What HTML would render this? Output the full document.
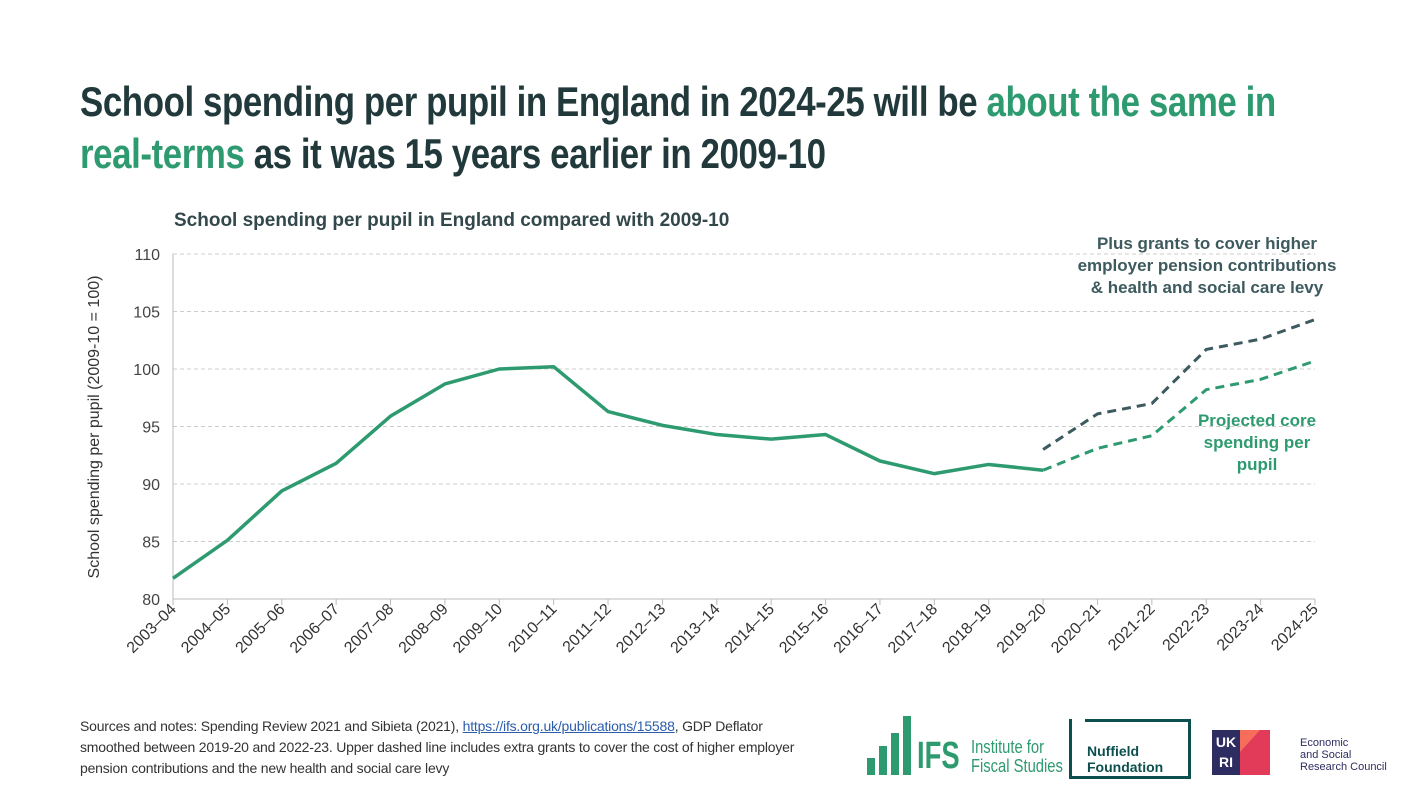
<!DOCTYPE html>
<html><head><meta charset="utf-8"><style>
body{margin:0;width:1423px;height:800px;background:#fff;font-family:"Liberation Sans",sans-serif;overflow:hidden;position:relative}
.t{position:absolute;left:80px;font-size:42px;line-height:52px;color:#22393c;font-weight:bold;letter-spacing:-0.5px;white-space:nowrap;transform-origin:left top;transform:scaleX(0.83)}
.g{color:#2e9a6f}
.st{position:absolute;left:174px;top:210px;font-size:19px;font-weight:bold;color:#33484b}
.src{position:absolute;left:80px;top:716px;font-size:14px;line-height:21px;color:#333;width:735px;letter-spacing:-0.2px}
.src u{color:#2a5dab}
.n{white-space:nowrap;transform-origin:left top;position:absolute}
</style></head><body>
<div>
<div class="t" style="top:76px">School spending per pupil in England in 2024-25 will be <span class="g">about the same in</span></div>
<div class="t" style="top:128px"><span class="g">real-terms</span> as it was 15 years earlier in 2009-10</div>
</div>
<div class="st">School spending per pupil in England compared with 2009-10</div>
<svg id="c" width="1423" height="800" style="position:absolute;left:0;top:0"></svg>
<div class="src">Sources and notes: Spending Review 2021 and Sibieta (2021), <u>https://ifs.org.uk/publications/15588</u>, GDP Deflator smoothed between 2019-20 and 2022-23. Upper dashed line includes extra grants to cover the cost of higher employer pension contributions and the new health and social care levy</div>
<div style="position:absolute;left:867px;top:716px;width:200px;height:62px">
<div style="position:absolute;left:0;top:42px;width:8px;height:17px;background:#2e9a6f"></div>
<div style="position:absolute;left:12px;top:30px;width:8px;height:29px;background:#2e9a6f"></div>
<div style="position:absolute;left:24px;top:17px;width:8px;height:42px;background:#2e9a6f"></div>
<div style="position:absolute;left:36px;top:0;width:8px;height:59px;background:#2e9a6f"></div>
<div class="n" style="left:50px;top:20px;font-size:38px;font-weight:bold;color:#2e9a6f;line-height:40px;transform:scaleX(0.72)">IFS</div>
<div class="n" style="left:104px;top:22px;font-size:18px;line-height:19px;color:#2e9a6f;transform:scaleX(0.82)">Institute for<br>Fiscal Studies</div>
</div>
<div style="position:absolute;left:1070px;top:719px;width:118px;height:57px;border:3px solid #0d4f4f;border-top:none;border-left:none"></div>
<div style="position:absolute;left:1069px;top:719px;width:3px;height:60px;background:#0d4f4f"></div>
<div style="position:absolute;left:1085px;top:719px;width:106px;height:3px;background:#0d4f4f"></div>
<div style="position:absolute;left:1087px;top:743px;font-size:14px;font-weight:bold;color:#0d4f4f;line-height:16px">Nuffield<br>Foundation</div>
<div style="position:absolute;left:1212px;top:730px;width:28px;height:45px;background:#2e2d62;color:#fff;font-size:14px;font-weight:bold;line-height:20px;text-align:center;padding-top:2px;box-sizing:border-box">UK<br>RI</div>
<div style="position:absolute;left:1240px;top:730px;width:30px;height:45px;background:#e23b5a"></div>
<div style="position:absolute;left:1240px;top:730px;width:0;height:0;border-top:22px solid #f76d5c;border-right:20px solid transparent"></div>
<div style="position:absolute;left:1300px;top:737px;font-size:11px;line-height:12px;color:#2e2d62">Economic<br>and Social<br>Research Council</div>
<script>
const cats=["2003–04","2004–05","2005–06","2006–07","2007–08","2008–09","2009–10","2010–11","2011–12","2012–13","2013–14","2014–15","2015–16","2016–17","2017–18","2018–19","2019–20","2020–21","2021-22","2022-23","2023-24","2024-25"];
const actual=[81.8,85.1,89.4,91.8,95.9,98.7,100,100.2,96.3,95.1,94.3,93.9,94.3,92.0,90.9,91.7,91.2];
const coreProj=[91.2,93.1,94.2,98.2,99.1,100.7];
const grantsProj=[93.0,96.1,97.0,101.7,102.6,104.3];
const yTicks=[80,85,90,95,100,105,110];
const projStart=16;
const ns="http://www.w3.org/2000/svg",svg=document.getElementById('c');
const x=i=>173+i*(1315-173)/(cats.length-1), y=v=>599-(v-80)*(599-254)/30;
function mk(t,a){const e=document.createElementNS(ns,t);for(const k in a)e.setAttribute(k,a[k]);svg.appendChild(e);return e;}
yTicks.forEach(v=>{
const l=mk('line',{x1:173,x2:1315,y1:y(v),y2:y(v),stroke:v==80?'#bbb':'#ccc','stroke-dasharray':v==80?'':'4,3'});


const t=mk('text',{x:160,y:y(v)+6,'text-anchor':'end','font-size':16,fill:'#444'});t.textContent=v;


});
mk('line',{x1:173,x2:173,y1:254,y2:599,stroke:'#bbb'});
cats.forEach((c,i)=>{
mk('line',{x1:x(i),x2:x(i),y1:599,y2:605,stroke:'#bbb'});
const t=mk('text',{x:x(i)+4,y:610,'text-anchor':'end','font-size':16,fill:'#333',transform:`rotate(-45 ${x(i)+4} 610)`});t.textContent=c;


});
const yt=mk('text',{x:0,y:0,'text-anchor':'middle','font-size':16,fill:'#333',transform:'translate(99 427) rotate(-90)'});yt.textContent='School spending per pupil (2009-10 = 100)';


function line(vals,off,col,dash,name){
const p=mk('polyline',{points:vals.map((v,i)=>x(i+off)+','+y(v)).join(' '),fill:'none',stroke:col,'stroke-width':dash?3:3.5,'stroke-dasharray':dash?'9,6':'','stroke-linejoin':'round'});

}
line(actual,0,'#2e9a6f',false,'actual-spending-line');
line(coreProj,projStart,'#2e9a6f',true,'projected-core-line');
line(grantsProj,projStart,'#3d5a5e',true,'plus-grants-line');
function lab(lines,cx,y0,col,name){lines.forEach((s,i)=>{const t=mk('text',{x:cx,y:y0+i*22,'text-anchor':'middle','font-size':17,'font-weight':'bold',fill:col});t.textContent=s;

});}
lab(['Plus grants to cover higher','employer pension contributions','& health and social care levy'],1207,249,'#3d5a5e','grants-label');
lab(['Projected core','spending per','pupil'],1257,426,'#2e9a6f','core-label');
</script>
</body></html>
